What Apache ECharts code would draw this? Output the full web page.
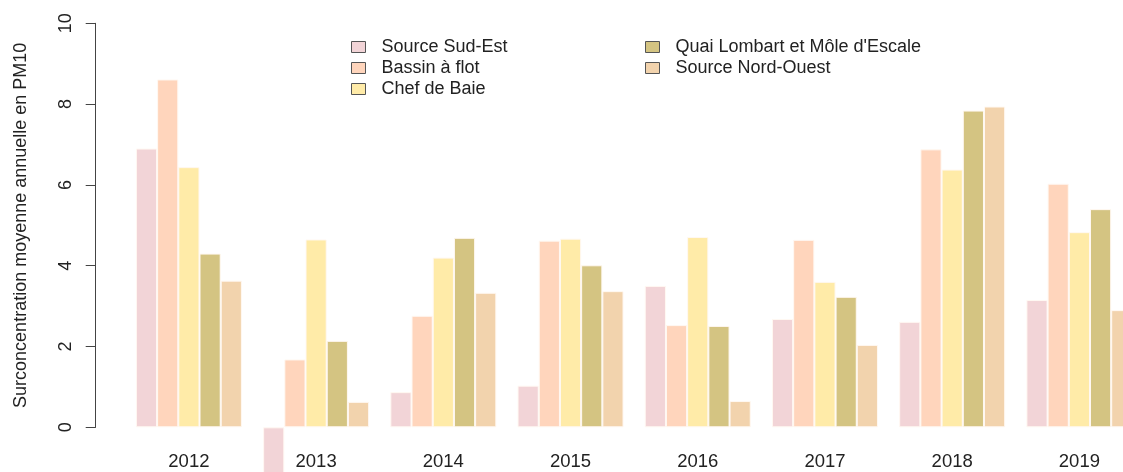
<!DOCTYPE html>
<html>
<head>
<meta charset="utf-8">
<title>Surconcentration PM10</title>
<script src="https://cdn.jsdelivr.net/npm/echarts@6/dist/echarts.min.js"></script>
<style>
  html, body { margin: 0; padding: 0; background: #fff; overflow: hidden; }
  /* la zone de tracé dépasse à droite, comme dans l'original (dernière barre coupée) */
  #chart { width: 1143px; height: 472px; }
</style>
</head>
<body>
<div id="chart"></div>
<script>
// annees (categories)
var years = ["2012", "2013", "2014", "2015", "2016", "2017", "2018", "2019"];

// valeurs
var sourceSudEst = [6.90, -1.5, 0.87, 1.03, 3.50, 2.68, 2.61, 3.15];
var bassinAFlot = [8.61, 1.68, 2.76, 4.62, 2.53, 4.64, 6.88, 6.03];
var chefDeBaie = [6.44, 4.65, 4.20, 4.67, 4.71, 3.60, 6.38, 4.83];
var quaiLombart = [4.30, 2.14, 4.69, 4.01, 2.51, 3.23, 7.84, 5.40];
var sourceNordOuest = [3.63, 0.63, 3.33, 3.37, 0.65, 2.04, 7.94, 2.90];

var yTicks = [0, 2, 4, 6, 8, 10];

var names = ["Source Sud-Est", "Bassin à flot", "Chef de Baie",
  "Quai Lombart et Môle d'Escale", "Source Nord-Ouest"];
var colors = ["#f2d4d7", "#ffd5bc", "#ffeba8", "#d4c482", "#f2d3ad"];
var values = [sourceSudEst, bassinAFlot, chefDeBaie, quaiLombart, sourceNordOuest];

var font = "Liberation Sans, Arial, sans-serif";

function makeSeries() {
  var out = [];
  for (var i = 0; i < names.length; i++) {
    out.push({
      name: names[i],
      type: "bar",
      data: values[i],
      clip: false,
      barGap: "0%",
      barCategoryGap: "16.67%",
      itemStyle: { color: colors[i], borderColor: "#fff8f2", borderWidth: 1 },
    });
  }
  return out;
}

function legendBox(list, left) {
  return {
    data: list,
    orient: "vertical",
    left: left,
    top: 38,
    padding: 0,
    itemWidth: 14,
    itemHeight: 11,
    itemGap: 3,
    icon: "rect",
    selectedMode: false,
    itemStyle: { borderColor: "#555", borderWidth: 1 },
    textStyle: { fontFamily: font, fontSize: 18, color: "#222", padding: [0, 0, 0, 11] },
  };
}

var option = {
  animation: false,
  backgroundColor: "#fff",
  color: colors,
  legend: [legendBox(names.slice(0, 3), 351), legendBox(names.slice(3), 645)],
  grid: { left: 125.3, right: 0, top: 23.3, bottom: 44.7, containLabel: false },
  xAxis: {
    type: "category",
    data: years,
    axisLine: { show: false },
    axisTick: { show: false },
    axisLabel: { fontFamily: font, fontSize: 18.5, color: "#222", margin: 25 },
  },
  yAxis: {
    type: "value",
    min: 0,
    max: 10,
    interval: 2,
    offset: 29.6,
    name: "Surconcentration moyenne annuelle en PM10",
    nameLocation: "middle",
    nameGap: 66,
    nameTextStyle: { fontFamily: font, fontSize: 18, color: "#222" },
    axisLine: { show: true, lineStyle: { color: "#444", width: 1 } },
    axisTick: { show: true, length: 10, lineStyle: { color: "#444" }, customValues: yTicks },
    axisLabel: { rotate: 90, fontFamily: font, fontSize: 18, color: "#222", margin: 21, customValues: yTicks },
    splitLine: { show: false },
  },
  series: makeSeries(),
};

var chart = echarts.init(document.getElementById("chart"));
chart.setOption(option);
</script>
</body>
</html>
